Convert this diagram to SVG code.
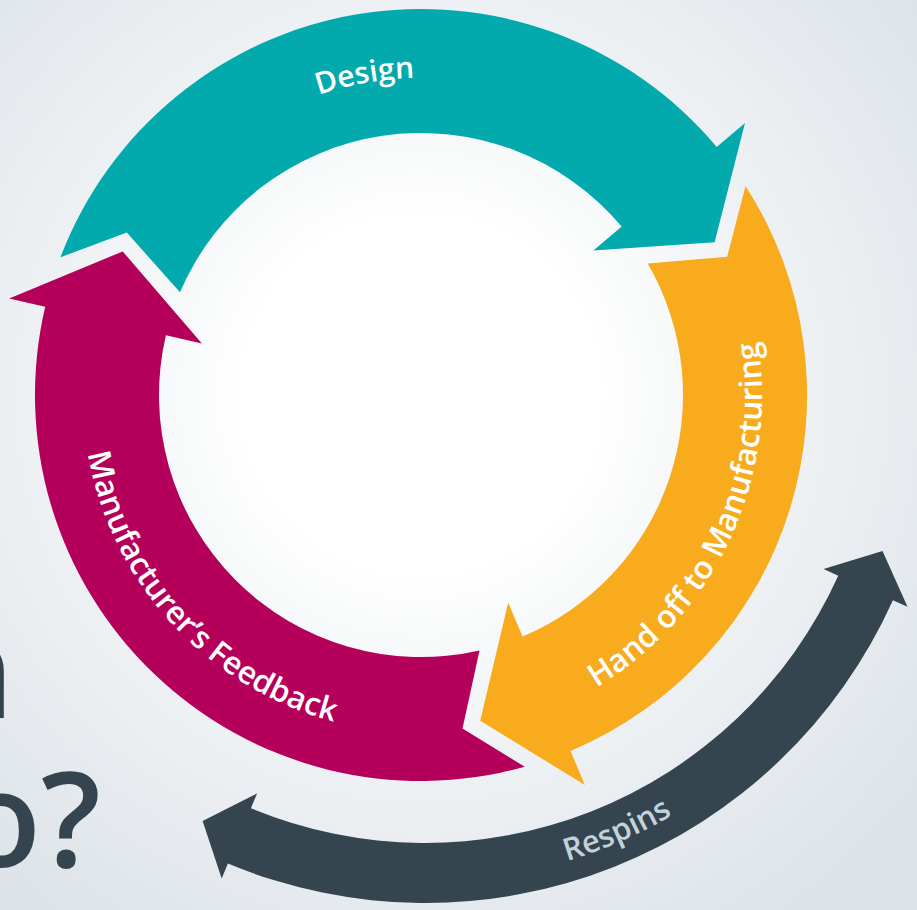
<svg xmlns="http://www.w3.org/2000/svg" width="917" height="910" viewBox="0 0 917 910">
  <defs>
    <radialGradient id="bg" gradientUnits="userSpaceOnUse" cx="421" cy="395" r="640">
      <stop offset="0" stop-color="#ffffff"/>
      <stop offset="0.28" stop-color="#ffffff"/>
      <stop offset="0.41" stop-color="#f6f8f9"/>
      <stop offset="0.6" stop-color="#eef1f4"/>
      <stop offset="1" stop-color="#dde3e8"/>
    </radialGradient>
    <!-- baselines for the curved labels -->
    <path id="p-design" d="M 123.1 286.6 A 317 317 0 0 1 663.8 191.2"/>
    <path id="p-handoff" d="M 332.7 724.4 A 341 341 0 0 0 616.6 115.7"/>
    <path id="p-feedback" d="M 152.8 189.2 A 338 338 0 0 0 602.6 680.1"/>
    <path id="p-respins" d="M 201.6 828.4 A 492 492 0 0 0 895.5 533.9"/>
  </defs>
  <style>
    .lbl { font-family: "Open Sans", "Liberation Sans", sans-serif; font-size: 30px; font-weight: 600; fill: #ffffff; }
    .long { font-size: 31.5px; }
    .resp { fill: #c3d1da; font-size: 31px; }
    .title { font-family: "Open Sans", "Liberation Sans", sans-serif; font-size: 132px; font-weight: 600; fill: #34454f; }
  </style>

  <rect width="917" height="910" fill="url(#bg)"/>

  <!-- headline fragments at the left edge -->
  <text class="title" x="14" y="718" text-anchor="end">n</text>
  <text class="title" x="101" y="867" text-anchor="end">o?</text>

  <!-- cycle stages -->
  <g id="node-design">
    <path fill="#02aaad" d="M 60.4 257.3 A 386 386 0 0 1 716.7 146.9 L 745.0 123.1 L 714.6 242.2 L 593.4 250.4 L 621.7 226.6 A 262 262 0 0 0 180.0 292.2 L 126.8 232.6 Z"/>
    <text class="lbl"><textPath href="#p-design" startOffset="50%" text-anchor="middle">Design</textPath></text>
  </g>

  <g id="node-handoff">
    <path fill="#f9ab1e" d="M 745.5 185.9 A 386 386 0 0 1 570.6 750.9 L 584.9 785.0 L 480.2 720.7 L 508.2 602.4 L 522.5 636.5 A 262 262 0 0 0 647.7 263.6 L 727.2 256.7 Z"/>
    <text class="lbl long"><textPath href="#p-handoff" startOffset="50%" text-anchor="middle">Hand off to Manufacturing</textPath></text>
  </g>

  <g id="node-feedback">
    <path fill="#b5005b" d="M 524.8 766.8 A 386 386 0 0 1 45.2 306.8 L 9.2 298.4 L 122.7 251.4 L 201.9 343.6 L 165.9 335.2 A 262 262 0 0 0 479.5 650.4 L 462.5 728.4 Z"/>
    <text class="lbl long"><textPath href="#p-feedback" startOffset="50%" text-anchor="middle">Manufacturer’s Feedback</textPath></text>
  </g>

  <!-- respin loop, double-headed -->
  <g id="connectors">
    <g id="edge-respins">
      <path fill="#34454f" d="M 838.2 575.7 L 823.6 569.1 L 882.5 551.1 L 907.5 606.8 L 892.9 600.3 A 513 513 0 0 1 227.9 863.6 L 221.7 878.4 L 202.6 821.0 L 257.1 793.4 L 250.9 808.2 A 453 453 0 0 0 838.2 575.7 Z"/>
      <text class="lbl resp"><textPath href="#p-respins" startOffset="50.5%" text-anchor="middle">Respins</textPath></text>
    </g>
  </g>
</svg>
